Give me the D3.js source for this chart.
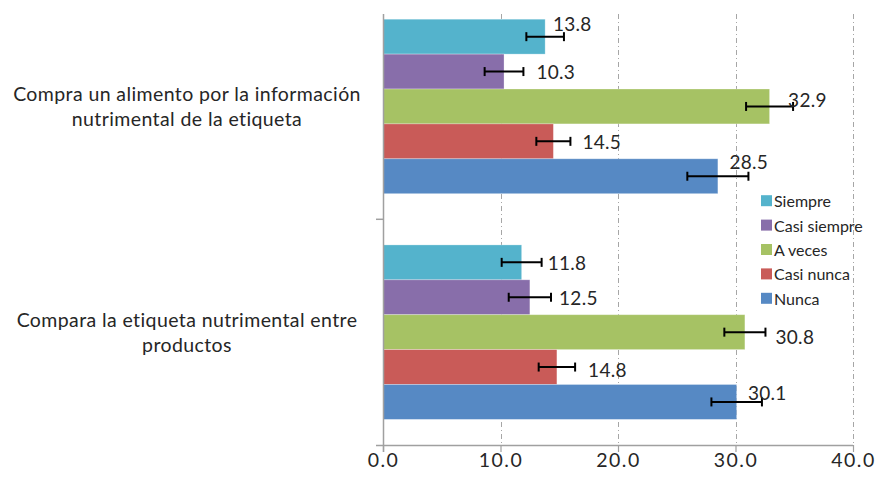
<!DOCTYPE html>
<html>
<head>
<meta charset="utf-8">
<script src="https://cdn.jsdelivr.net/npm/d3@7"></script>
<style>
  html, body { margin: 0; padding: 0; background: #fff; }
  svg { display: block; }
  text { font-family: Lato, "Open Sans", sans-serif; fill: #262626; }
</style>
</head>
<body>
<svg id="chart" width="875" height="481"></svg>
<script>
// ---- data ----
const categories = ["Compra un alimento por la información nutrimental de la etiqueta",
                    "Compara la etiqueta nutrimental entre productos"];
const categoryLines = [["Compra un alimento por la información", "nutrimental de la etiqueta"],
                       ["Compara la etiqueta nutrimental entre", "productos"]];
const series = ["Siempre", "Casi siempre", "A veces", "Casi nunca", "Nunca"];
const valuesCompra  = [13.8, 10.3, 32.9, 14.5, 28.5];
const valuesCompara = [11.8, 12.5, 30.8, 14.8, 30.1];
const errorCompra   = [1.6, 1.65, 2.0, 1.45, 2.6];
const errorCompara  = [1.7, 1.8, 1.75, 1.55, 2.15];
const xTicks = [0, 10, 20, 30, 40];

// ---- style ----
const colors = ["#54B3CC", "#886EAA", "#A6C264", "#C95B58", "#5689C4"];
// manual label nudges (px) relative to error bar end / bar centre
const labelNudge = [
  [[-11, -13], [13, 0], [-5, -7], [12, 0], [-19, -15]],
  [[6, 0], [8, 0], [10, 4], [13, 2], [-14, -9]]
];

const values = [valuesCompra, valuesCompara];
const errors = [errorCompra, errorCompara];

const svg = d3.select("#chart");
const plotTop = 14, plotBottom = 445, plotLeft = 383, plotRight = 853;

const x = d3.scaleLinear().domain([0, 40]).range([plotLeft, plotRight]);
const y = d3.scaleBand().domain(categories).range([-6.4, plotBottom])
  .paddingInner(0.227).paddingOuter(0.1135);
const ys = d3.scaleBand().domain(series).range([0, y.bandwidth()]).padding(0);

// gridlines
svg.append("g").selectAll("line").data(xTicks.filter(d => d > 0)).join("line")
  .attr("x1", d => Math.round(x(d)) + 0.5).attr("x2", d => Math.round(x(d)) + 0.5)
  .attr("y1", plotTop).attr("y2", plotBottom)
  .attr("stroke", "#a6a6a6").attr("stroke-width", 1)
  .attr("stroke-dasharray", "5,3,1,3");

// bars
const groups = svg.append("g").selectAll("g").data(categories).join("g")
  .attr("transform", d => `translate(0,${y(d)})`);

groups.each(function(cat, ci) {
  const g = d3.select(this);
  const rows = series.map((s, si) => ({s, si, v: values[ci][si], e: errors[ci][si]}));
  g.selectAll("rect").data(rows).join("rect")
    .attr("x", x(0))
    .attr("y", d => ys(d.s))
    .attr("width", d => x(d.v) - x(0))
    .attr("height", ys.bandwidth())
    .attr("fill", d => colors[d.si])
    .attr("stroke", "rgba(255,255,255,0.35)").attr("stroke-width", 0.8);

  // error bars
  const eb = g.selectAll("g.err").data(rows).join("g").attr("class", "err");
  eb.append("line")
    .attr("x1", d => x(d.v - d.e)).attr("x2", d => x(d.v + d.e))
    .attr("y1", d => ys(d.s) + ys.bandwidth() / 2).attr("y2", d => ys(d.s) + ys.bandwidth() / 2)
    .attr("stroke", "#000").attr("stroke-width", 2);
  [-1, 1].forEach(sgn => {
    eb.append("line")
      .attr("x1", d => x(d.v + sgn * d.e)).attr("x2", d => x(d.v + sgn * d.e))
      .attr("y1", d => ys(d.s) + ys.bandwidth() / 2 - 4.5)
      .attr("y2", d => ys(d.s) + ys.bandwidth() / 2 + 4.5)
      .attr("stroke", "#000").attr("stroke-width", 2);
  });

  // value labels
  g.selectAll("text.val").data(rows).join("text").attr("class", "val")
    .attr("x", d => x(d.v + d.e) + labelNudge[ci][d.si][0])
    .attr("y", d => ys(d.s) + ys.bandwidth() / 2 + labelNudge[ci][d.si][1])
    .attr("dominant-baseline", "central")
    .attr("font-size", 19)
    .attr("letter-spacing", 0.3)
    .text(d => d.v.toFixed(1));
});

// axes
const axisColor = "#a0a0a0";
svg.append("line").attr("x1", plotLeft + 0.5).attr("x2", plotLeft + 0.5)
  .attr("y1", plotTop).attr("y2", plotBottom + 7).attr("stroke", axisColor).attr("stroke-width", 1.5);
svg.append("line").attr("x1", plotLeft - 7).attr("x2", plotRight)
  .attr("y1", plotBottom + 0.5).attr("y2", plotBottom + 0.5).attr("stroke", axisColor).attr("stroke-width", 1.5);
// category separator tick
svg.append("line").attr("x1", plotLeft - 7).attr("x2", plotLeft)
  .attr("y1", y(categories[1]) - y.step() * y.paddingInner() / 2)
  .attr("y2", y(categories[1]) - y.step() * y.paddingInner() / 2)
  .attr("stroke", axisColor).attr("stroke-width", 1.5);

const xAxis = svg.append("g").attr("transform", `translate(0,${plotBottom})`)
  .call(d3.axisBottom(x).tickValues(xTicks).tickFormat(d3.format(".1f")).tickSize(7).tickPadding(1));
xAxis.select(".domain").remove();
xAxis.selectAll(".tick line").attr("stroke", axisColor).attr("stroke-width", 1.2);
xAxis.selectAll(".tick text").attr("font-size", 19.5).attr("letter-spacing", 1.5)
  .attr("font-family", "Lato, sans-serif").attr("fill", "#262626");

// category labels
categories.forEach((cat, ci) => {
  const cy = y(cat) + y.bandwidth() / 2;
  const lines = categoryLines[ci];
  const lh = 25;
  lines.forEach((ln, li) => {
    svg.append("text")
      .attr("x", 187)
      .attr("y", cy + (li - (lines.length - 1) / 2) * lh)
      .attr("text-anchor", "middle")
      .attr("dominant-baseline", "central")
      .attr("font-size", 19.5)
      .attr("letter-spacing", 0.4)
      .text(ln);
  });
});

// legend
const legend = svg.append("g").attr("transform", "translate(761,200.7)");
series.forEach((s, i) => {
  const row = legend.append("g").attr("transform", `translate(0,${i * 24.4})`);
  row.append("rect").attr("x", 0).attr("y", -5.5).attr("width", 11).attr("height", 11).attr("fill", colors[i]);
  row.append("text").attr("x", 13).attr("y", 0).attr("dominant-baseline", "central")
    .attr("font-size", 16).text(s);
});
</script>
</body>
</html>
